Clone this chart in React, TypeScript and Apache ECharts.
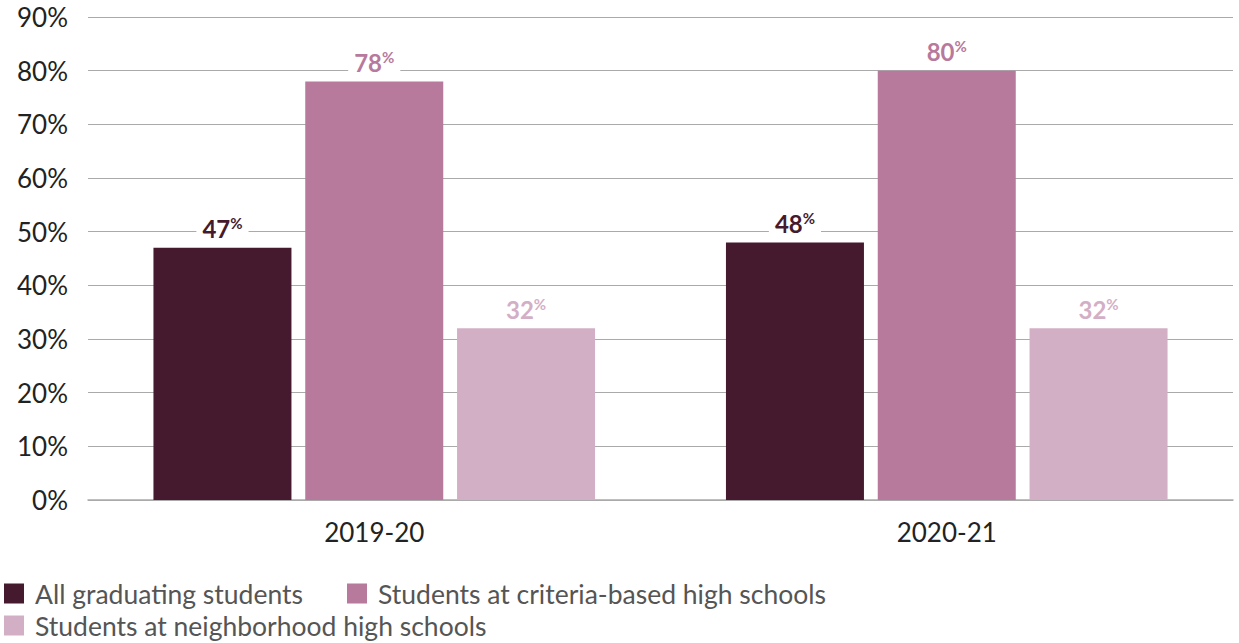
import React, { useEffect, useRef } from "react";
import * as echarts from "echarts";

const categories = ["2019-20", "2020-21"];
const seriesNames = [
  "All graduating students",
  "Students at criteria-based high schools",
  "Students at neighborhood high schools",
];
const allGraduating = [47, 48];
const criteriaBased = [78, 80];
const neighborhood = [32, 32];
const colors = ["#451a2e", "#b7799c", "#d3afc6"];

export default function App() {
  const ref = useRef<HTMLDivElement>(null);
  useEffect(() => {
    if (!ref.current) return;
    const chart = echarts.init(ref.current, null, { renderer: "svg" });
    const font = "Lato, 'Noto Sans', sans-serif";
    const mkSeries = (name: string, data: number[], color: string) => ({
      name,
      type: "bar",
      data,
      barWidth: 138,
      barGap: "10%",
      itemStyle: { color },
      label: {
        show: true,
        position: "top",
        distance: 6,
        formatter: (p: any) => `{n|${p.value}}{p|%}`,
        backgroundColor: "#ffffff",
        padding: [0, 6, 0, 6],
        rich: {
          n: { fontSize: 24, fontWeight: "bold", color, fontFamily: font, lineHeight: 26 },
          p: { fontSize: 15, fontWeight: "bold", color, fontFamily: font, verticalAlign: "top", lineHeight: 26, padding: [0, 0, 10, 0] },
        },
      },
    });
    const legendText = { fontSize: 26.5, color: "#555", fontFamily: font, padding: [0, 0, 0, 6] };
    chart.setOption({
      animation: false,
      textStyle: { fontFamily: font },
      grid: { left: 88, right: 6, top: 17, bottom: 143 },
      legend: [
        {
          data: seriesNames.slice(0, 2),
          left: 4,
          top: 580,
          padding: 0,
          itemWidth: 20,
          itemHeight: 20,
          itemGap: 44,
          icon: "rect",
          textStyle: legendText,
        },
        {
          data: seriesNames.slice(2),
          left: 4,
          top: 612,
          padding: 0,
          itemWidth: 20,
          itemHeight: 20,
          icon: "rect",
          textStyle: legendText,
        },
      ],
      xAxis: {
        type: "category",
        data: categories,
        axisTick: { show: false },
        axisLine: { lineStyle: { color: "#aaaaaa", width: 1.5 } },
        axisLabel: { fontSize: 26, color: "#222", margin: 19, fontFamily: font },
      },
      yAxis: {
        type: "value",
        min: 0,
        max: 90,
        interval: 10,
        axisLabel: { formatter: "{value}%", fontSize: 26, color: "#222", margin: 20, fontFamily: font },
        splitLine: { lineStyle: { color: "#aaaaaa", width: 1 } },
        axisLine: { show: false },
        axisTick: { show: false },
      },
      series: [
        mkSeries(seriesNames[0], allGraduating, colors[0]),
        mkSeries(seriesNames[1], criteriaBased, colors[1]),
        mkSeries(seriesNames[2], neighborhood, colors[2]),
      ],
    });
    return () => chart.dispose();
  }, []);
  return <div ref={ref} style={{ position: "absolute", left: 0, top: 0, width: 1239, height: 643 }} />;
}
